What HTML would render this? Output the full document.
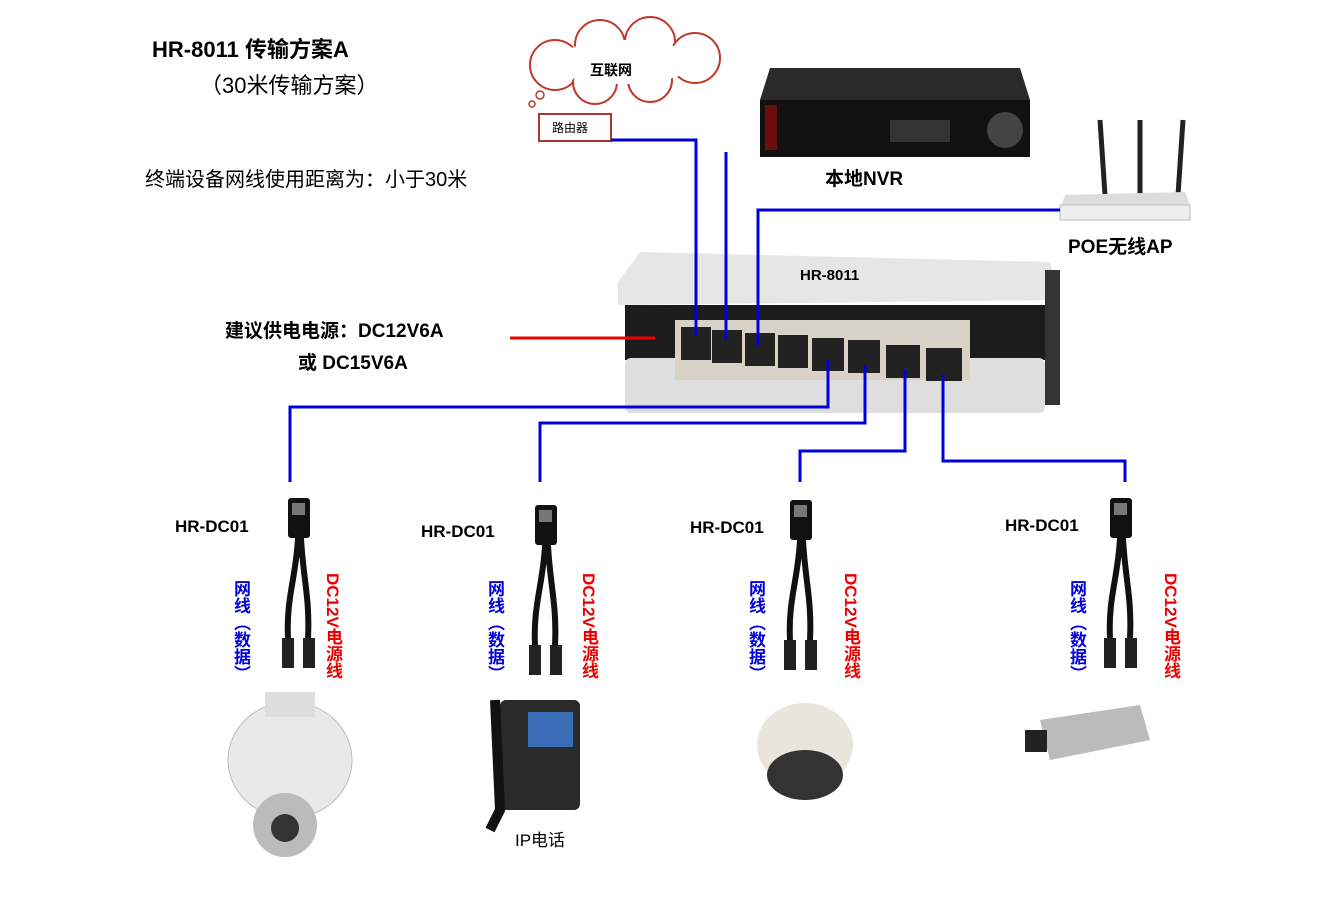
<!DOCTYPE html>
<html><head><meta charset="utf-8"><style>
body{margin:0;background:#fff;width:1328px;height:908px;overflow:hidden;position:relative;font-family:"Liberation Sans","Noto Sans CJK SC",sans-serif}
.t{position:absolute;font-weight:bold;white-space:nowrap}
.v{position:absolute;font-weight:bold;font-size:17px;writing-mode:vertical-rl;white-space:nowrap;line-height:20px}
</style></head><body>
<div class="t" style="left:152px;top:32px;font-size:22px">HR-8011 传输方案A</div>
<div class="t" style="left:200px;top:68px;font-size:22px;font-weight:normal">（30米传输方案）</div>
<div class="t" style="left:145px;top:163px;font-size:20px;font-weight:normal">终端设备网线使用距离为：小于30米</div>
<div class="t" style="left:225px;top:316px;font-size:19px">建议供电电源：DC12V6A</div>
<div class="t" style="left:298px;top:348px;font-size:19px">或 DC15V6A</div>
<div class="t" style="left:825px;top:164px;font-size:19px">本地NVR</div>
<div class="t" style="left:1068px;top:232px;font-size:19px">POE无线AP</div>
<div class="t" style="left:515px;top:826px;font-size:17px;font-weight:normal">IP电话</div>
<svg width="1328" height="908" style="position:absolute;left:0;top:0">
<defs>
<g id="a">
<rect x="-10" y="0" width="22" height="40" rx="3" fill="#111"/>
<rect x="-6" y="5" width="13" height="12" fill="#777"/>
<path d="M0 40 C-2 80 -12 100 -10 140 M3 40 C5 80 12 100 10 140" stroke="#111" stroke-width="6" fill="none"/>
<rect x="-16" y="140" width="12" height="30" fill="#222"/><rect x="5" y="140" width="12" height="30" fill="#222"/>
</g>
</defs>
<!-- cloud -->
<g fill="#fff" stroke="#c0392b" stroke-width="2">
<circle cx="555" cy="65" r="25"/><circle cx="600" cy="45" r="25"/><circle cx="650" cy="42" r="25"/><circle cx="695" cy="58" r="25"/><circle cx="650" cy="80" r="22"/><circle cx="595" cy="82" r="22"/>
</g>
<g fill="#fff">
<circle cx="555" cy="65" r="23"/><circle cx="600" cy="45" r="23"/><circle cx="650" cy="42" r="23"/><circle cx="695" cy="58" r="23"/><circle cx="650" cy="80" r="20"/><circle cx="595" cy="82" r="20"/><ellipse cx="625" cy="62" rx="70" ry="22"/>
</g>
<circle cx="540" cy="95" r="4" fill="none" stroke="#c0392b" stroke-width="1.5"/>
<circle cx="532" cy="104" r="3" fill="none" stroke="#c0392b" stroke-width="1.5"/>
<text x="590" y="75" font-size="14" font-weight="bold" fill="#000">互联网</text>
<rect x="539" y="114" width="72" height="27" fill="#fff" stroke="#a33" stroke-width="2"/>
<text x="552" y="132" font-size="12" fill="#000">路由器</text>
<!-- NVR -->
<path d="M770 68 L1020 68 L1030 100 L760 100Z" fill="#2a2a2a"/>
<rect x="760" y="100" width="270" height="57" fill="#111"/>
<rect x="765" y="105" width="12" height="45" fill="#6a0d0d"/>
<circle cx="1005" cy="130" r="18" fill="#444"/>
<rect x="890" y="120" width="60" height="22" fill="#333"/>
<!-- AP -->
<line x1="1105" y1="195" x2="1100" y2="120" stroke="#222" stroke-width="5"/>
<line x1="1140" y1="195" x2="1140" y2="120" stroke="#222" stroke-width="5"/>
<line x1="1178" y1="195" x2="1183" y2="120" stroke="#222" stroke-width="5"/>
<path d="M1065 195 L1185 192 L1190 205 L1060 210Z" fill="#ddd"/>
<rect x="1060" y="205" width="130" height="15" fill="#eee" stroke="#bbb"/>
<!-- switch -->
<path d="M640 252 L1050 262 L1060 300 L618 305 L618 282Z" fill="#e6e6e6"/>
<rect x="625" y="305" width="420" height="55" fill="#1c1c1c"/>
<rect x="625" y="358" width="420" height="55" rx="6" fill="#dedede"/>
<rect x="675" y="320" width="295" height="60" fill="#d8d2c6"/>
<g fill="#222">
<rect x="681" y="327" width="30" height="33"/><rect x="712" y="330" width="30" height="33"/><rect x="745" y="333" width="30" height="33"/><rect x="778" y="335" width="30" height="33"/><rect x="812" y="338" width="32" height="33"/><rect x="848" y="340" width="32" height="33"/><rect x="886" y="345" width="34" height="33"/><rect x="926" y="348" width="36" height="33"/>
</g>
<rect x="1045" y="270" width="15" height="135" fill="#333"/>
<text x="800" y="280" font-size="15" font-weight="bold" fill="#000">HR-8011</text>
<!-- lines -->
<g stroke="#0000dd" stroke-width="3" fill="none">
<polyline points="611,140 696,140 696,335"/>
<polyline points="726,152 726,340"/>
<polyline points="1060,210 758,210 758,345"/>
<polyline points="828,360 828,407 290,407 290,482"/>
<polyline points="865,365 865,423 540,423 540,482"/>
<polyline points="905,370 905,451 800,451 800,482"/>
<polyline points="943,375 943,461 1125,461 1125,482"/>
</g>
<line x1="510" y1="338" x2="655" y2="338" stroke="#e00" stroke-width="3"/>
<use href="#a" x="298" y="498"/><use href="#a" x="545" y="505"/><use href="#a" x="800" y="500"/><use href="#a" x="1120" y="498"/>
<!-- devices -->
<ellipse cx="290" cy="760" rx="62" ry="58" fill="#e9e9e9" stroke="#bbb"/>
<rect x="265" y="692" width="50" height="25" fill="#ddd"/>
<circle cx="285" cy="825" r="32" fill="#bbb"/><circle cx="285" cy="828" r="14" fill="#333"/>
<rect x="500" y="700" width="80" height="110" rx="6" fill="#2a2a2a"/>
<rect x="528" y="712" width="45" height="35" fill="#3a6db5"/>
<path d="M495 700 L500 810 L490 830" stroke="#111" stroke-width="10" fill="none"/>
<ellipse cx="805" cy="745" rx="48" ry="42" fill="#e8e6dc"/>
<ellipse cx="805" cy="775" rx="38" ry="25" fill="#333"/>
<path d="M1040 720 L1140 705 L1150 740 L1050 760Z" fill="#bbb"/>
<rect x="1025" y="730" width="22" height="22" fill="#222"/>
</svg>
<div class="t" style="left:175px;top:517px;font-size:17px">HR-DC01</div>
<div class="t" style="left:421px;top:522px;font-size:17px">HR-DC01</div>
<div class="t" style="left:690px;top:518px;font-size:17px">HR-DC01</div>
<div class="t" style="left:1005px;top:516px;font-size:17px">HR-DC01</div>
<div class="v" style="left:230px;top:580px;color:#00d">网线（数据）</div>
<div class="v" style="left:322px;top:573px;color:#e00">DC12V电源线</div>
<div class="v" style="left:484px;top:580px;color:#00d">网线（数据）</div>
<div class="v" style="left:578px;top:573px;color:#e00">DC12V电源线</div>
<div class="v" style="left:745px;top:580px;color:#00d">网线（数据）</div>
<div class="v" style="left:840px;top:573px;color:#e00">DC12V电源线</div>
<div class="v" style="left:1066px;top:580px;color:#00d">网线（数据）</div>
<div class="v" style="left:1160px;top:573px;color:#e00">DC12V电源线</div>
</body></html>
